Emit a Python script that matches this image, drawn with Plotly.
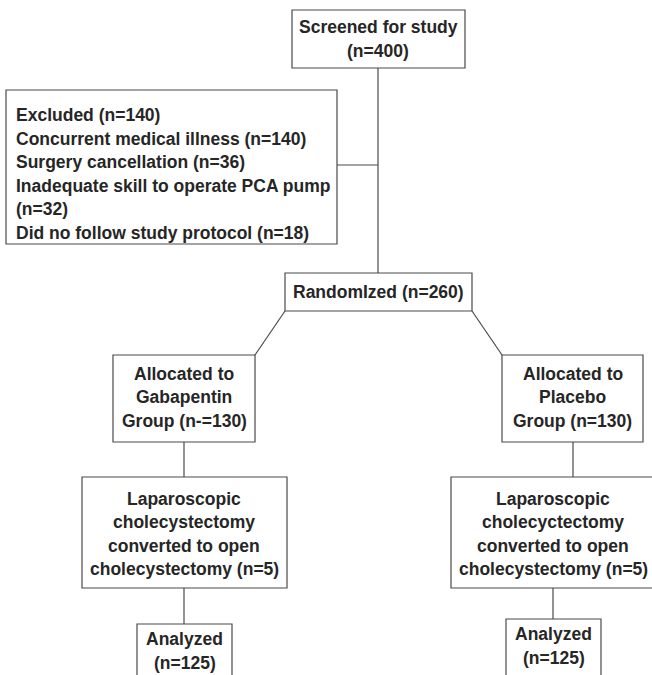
import plotly.graph_objects as go

# ---- data ----
screened_n = 400
excluded_n = 140
exclusion_reasons = ["Concurrent medical illness", "Surgery cancellation",
                     "Inadequate skill to operate PCA pump", "Did no follow study protocol"]
exclusion_counts = [140, 36, 32, 18]
randomized_n = 260
groups = ["Gabapentin", "Placebo"]
allocated_labels = ["n-=130", "n=130"]
converted_terms = ["cholecystectomy", "cholecyctectomy"]
converted_n = [5, 5]
analyzed_n = [125, 125]

# ---- layout geometry (pixels of the page) ----
LINE = dict(color="#4a4a4a", width=1.2)
FONT = dict(family="Liberation Sans, Arial, sans-serif", size=17.5, color="#262626", weight="bold")
LINE_GAP = 23.5

boxes = {
    "screened": (292, 10, 465, 68),
    "excluded": (6, 90, 337, 244),
    "randomized": (285, 273, 472, 311),
    "alloc0": (113, 355, 255, 442),
    "alloc1": (502, 355, 643, 442),
    "conv0": (82, 477, 287, 588),
    "conv1": (451, 477, 660, 588),
    "anal0": (137, 624, 232, 700),
    "anal1": (506, 619, 601, 700),
}

connectors = [
    (378, 68, 378, 273),
    (337, 165, 378, 165),
    (285, 311, 255, 355),
    (472, 311, 502, 355),
    (184, 442, 184, 477),
    (573, 442, 573, 477),
    (184, 588, 184, 624),
    (553, 588, 553, 619),
]

fig = go.Figure()
shapes = []
for (x0, y0, x1, y1) in boxes.values():
    shapes.append(dict(type="rect", xref="x", yref="y", x0=x0, y0=y0, x1=x1, y1=y1,
                       line=LINE, fillcolor="rgba(0,0,0,0)"))
for (x0, y0, x1, y1) in connectors:
    shapes.append(dict(type="line", xref="x", yref="y", x0=x0, y0=y0, x1=x1, y1=y1, line=LINE))

annotations = []


def add_text(lines, x, yc, xanchor="center"):
    n = len(lines)
    for k, t in enumerate(lines):
        y = yc + (k - (n - 1) / 2) * LINE_GAP
        annotations.append(dict(text=t, x=x, y=y, xref="x", yref="y", showarrow=False,
                                xanchor=xanchor, yanchor="middle", align="left" if xanchor == "left" else "center",
                                font=FONT))


add_text(["Screened for study", f"(n={screened_n})"], 378, 39)

excl_lines = [f"Excluded (n={excluded_n})"]
for r, c in zip(exclusion_reasons, exclusion_counts):
    if len(r) > 30:
        excl_lines += [r, f"(n={c})"]
    else:
        excl_lines.append(f"{r} (n={c})")
add_text(excl_lines, 14, 174, xanchor="left")

add_text([f"RandomIzed (n={randomized_n})"], 378, 292)

alloc_x = [184, 572.5]
conv_x = [184, 553]
anal_xy = [(184.5, 651), (553.5, 646)]
for i, g in enumerate(groups):
    add_text(["Allocated to", g, f"Group ({allocated_labels[i]})"], alloc_x[i], 397)
    add_text(["Laparoscopic", converted_terms[i], "converted to open",
              f"cholecystectomy (n={converted_n[i]})"], conv_x[i], 534)
    add_text(["Analyzed", f"(n={analyzed_n[i]})"], anal_xy[i][0], anal_xy[i][1])

fig.update_layout(
    width=652, height=675,
    margin=dict(l=0, r=0, t=0, b=0),
    paper_bgcolor="white", plot_bgcolor="white",
    xaxis=dict(range=[0, 652], visible=False, fixedrange=True),
    yaxis=dict(range=[675, 0], visible=False, fixedrange=True),
    shapes=shapes, annotations=annotations, showlegend=False,
)
fig.write_html("out.html", config={"displayModeBar": False},
               post_script="document.body.style.margin='0';document.body.style.overflow='hidden';")
